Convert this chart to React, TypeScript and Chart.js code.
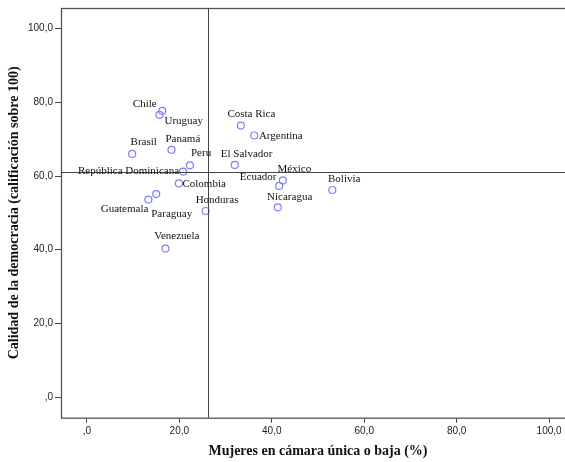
import React, { useEffect, useRef } from "react";
import { Chart, registerables } from "chart.js";

Chart.register(...registerables);

const countries = [
  "Chile", "Uruguay", "Brasil", "Panamá", "Peru", "República Dominicana",
  "Colombia", "Guatemala", "Paraguay", "Honduras", "Venezuela", "Costa Rica",
  "Argentina", "El Salvador", "México", "Ecuador", "Nicaragua", "Bolivia",
];
const womenPct = [16.3, 15.7, 9.8, 18.3, 22.3, 20.8, 19.9, 13.3, 15.0, 25.7, 17.0, 33.3, 36.2, 32.0, 42.4, 41.6, 41.3, 53.1];
const democracy = [77.7, 76.6, 66.0, 67.1, 62.9, 61.2, 58.0, 53.6, 55.1, 50.5, 40.3, 73.7, 71.0, 63.0, 58.8, 57.3, 51.5, 56.2];
const xTicks = [0, 20, 40, 60, 80, 100];
const yTicks = [0, 20, 40, 60, 80, 100];
const meanX = 26.3;
const meanY = 61.1;
const xTitle = "Mujeres en cámara única o baja (%)";
const yTitle = "Calidad de la democracia (calificación sobre 100)";

// label placement relative to each point (pixels), style only
const labelOffsets: [number, number, "left" | "right"][] = [
  [-5.6, -7, "right"], [5, 6.7, "left"], [-1.6, -11.6, "left"], [-6, -11, "left"],
  [1, -12, "left"], [-4, 0, "right"], [3.6, 0.6, "left"], [0, 9.3, "right"],
  [-5, 20, "left"], [-10, -11.3, "left"], [-11.3, -12, "left"], [-13.4, -11, "left"],
  [4.7, 0.3, "left"], [-14, -11, "left"], [-5.3, -11.7, "left"], [-2.7, -9.3, "right"],
  [-10.7, -10.6, "left"], [-4.3, -10.6, "left"],
];

const fmt = (v: number) => (v === 0 ? ",0" : v.toFixed(1).replace(".", ","));

export default function App() {
  const ref = useRef<HTMLCanvasElement>(null);
  useEffect(() => {
    if (!ref.current) return;
    const overlay = {
      id: "overlay",
      afterDraw(chart: any) {
        const { ctx, chartArea: a, scales } = chart;
        const xs = scales.x, ys = scales.y;
        ctx.save();
        // frame
        ctx.strokeStyle = "#555";
        ctx.lineWidth = 1.3;
        ctx.strokeRect(Math.round(a.left) + 0.5, Math.round(a.top) + 0.5, a.right - a.left, a.bottom - a.top);
        // reference lines
        ctx.strokeStyle = "#444";
        ctx.lineWidth = 1;
        const vx = Math.round(xs.getPixelForValue(meanX)) + 0.5;
        ctx.beginPath(); ctx.moveTo(vx, a.top); ctx.lineTo(vx, a.bottom); ctx.stroke();
        const hy = Math.round(ys.getPixelForValue(meanY)) + 0.5;
        ctx.beginPath(); ctx.moveTo(a.left, hy); ctx.lineTo(a.right, hy); ctx.stroke();
        // point labels
        ctx.fillStyle = "#111";
        ctx.font = '11px "Liberation Serif"';
        ctx.textBaseline = "middle";
        countries.forEach((c, i) => {
          const px = xs.getPixelForValue(womenPct[i]);
          const py = ys.getPixelForValue(democracy[i]);
          const [dx, dy, al] = labelOffsets[i];
          ctx.textAlign = al;
          ctx.fillText(c, px + dx, py + dy);
        });
        // axis titles
        ctx.fillStyle = "#111";
        ctx.font = 'bold 14px "Liberation Serif"';
        ctx.textAlign = "center";
        ctx.fillText(xTitle, (a.left + a.right) / 2, 451.7);
        ctx.save();
        ctx.translate(14, (a.top + a.bottom) / 2);
        ctx.rotate(-Math.PI / 2);
        ctx.fillText(yTitle, 0, 0);
        ctx.restore();
        ctx.restore();
      },
    };
    const chart = new Chart(ref.current, {
      type: "scatter",
      data: {
        datasets: [
          {
            data: womenPct.map((x, i) => ({ x, y: democracy[i] })),
            pointRadius: 3.5,
            pointBorderWidth: 1.2,
            pointBorderColor: "#7f7ff5",
            pointBackgroundColor: "rgba(0,0,0,0)",
            pointHoverRadius: 3.5,
          },
        ],
      },
      options: {
        animation: false,
        responsive: false,
        devicePixelRatio: 1,
        events: [],
        layout: { padding: { top: 6, left: 0, right: 5, bottom: 0 } },
        plugins: { legend: { display: false }, tooltip: { enabled: false } },
        scales: {
          x: {
            type: "linear",
            min: -5.6,
            max: 105.6,
            afterBuildTicks: (s: any) => { s.ticks = xTicks.map((v) => ({ value: v })); },
            afterFit: (s: any) => { s.height = 44.3; },
            ticks: {
              callback: (v: any) => fmt(Number(v)),
              font: { family: '"Liberation Sans"', size: 10 },
              color: "#222",
              padding: 3,
              maxRotation: 0,
              autoSkip: false,
            },
            grid: { drawOnChartArea: false, drawTicks: true, tickLength: 5, color: "#444" },
            border: { display: false },
          },
          y: {
            type: "linear",
            min: -5.6,
            max: 105.6,
            afterBuildTicks: (s: any) => { s.ticks = yTicks.map((v) => ({ value: v })); },
            afterFit: (s: any) => { s.width = 61; },
            ticks: {
              callback: (v: any) => fmt(Number(v)),
              font: { family: '"Liberation Sans"', size: 10 },
              color: "#222",
              padding: 2,
              autoSkip: false,
            },
            grid: { drawOnChartArea: false, drawTicks: true, tickLength: 6, color: "#444" },
            border: { display: false },
          },
        },
      },
      plugins: [overlay],
    });
    return () => chart.destroy();
  }, []);
  return (
    <div style={{ position: "fixed", left: 0, top: 0, width: 565, height: 462, overflow: "hidden", background: "#fff" }}>
      <canvas ref={ref} width={580} height={462} style={{ display: "block" }} />
    </div>
  );
}
